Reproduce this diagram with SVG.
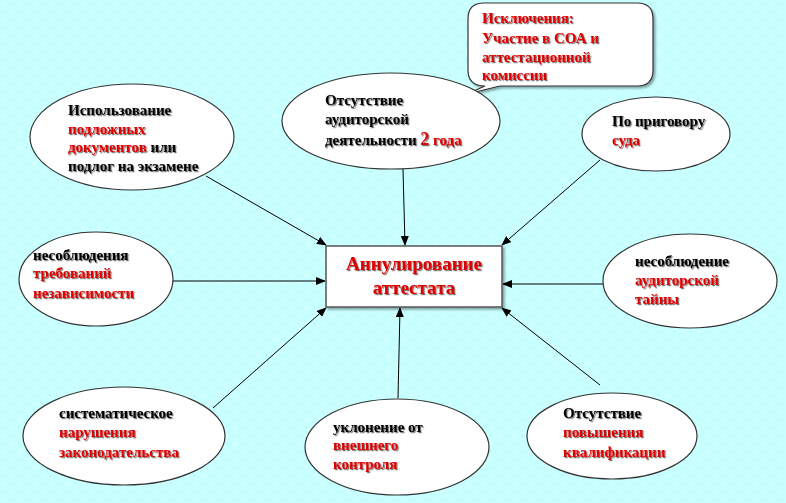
<svg xmlns="http://www.w3.org/2000/svg" width="786" height="503" viewBox="0 0 786 503">
<defs>
<pattern id="dots" width="16" height="16" patternUnits="userSpaceOnUse">
<rect width="16" height="16" fill="#c8ffff"/>
<rect x="2" y="3" width="2" height="1" fill="#ffffff"/>
<rect x="10" y="11" width="2" height="1" fill="#ffffff"/>
<rect x="10" y="3" width="1" height="1" fill="#9ee6e6"/>
<rect x="2" y="11" width="1" height="1" fill="#9ee6e6"/>
</pattern>
<filter id="ts" x="-5%" y="-5%" width="115%" height="130%">
<feDropShadow dx="1.2" dy="1.2" stdDeviation="0.3" flood-color="#000" flood-opacity="0.55"/>
</filter>
<filter id="sh" x="-5%" y="-5%" width="115%" height="120%">
<feDropShadow dx="2" dy="2" stdDeviation="0.8" flood-color="#000" flood-opacity="0.35"/>
</filter>
<marker id="ah" markerWidth="10" markerHeight="8" refX="9" refY="4" orient="auto" markerUnits="userSpaceOnUse">
<path d="M0,0 L10,4 L0,8 Z" fill="#000"/>
</marker>
</defs>
<style>
.node{fill:#fff;stroke:#333;stroke-width:1.2}
.t{font-family:"Liberation Serif","Times New Roman",serif;font-weight:bold;font-size:15px;fill:#000}
.r{fill:#e00000}
.c{font-size:19px;text-anchor:middle;fill:#e00000}
.conn{stroke:#000;stroke-width:1;fill:none;marker-end:url(#ah)}
</style>
<rect width="786" height="503" fill="url(#dots)"/>

<g id="connectors">
<line class="conn" x1="206" y1="176" x2="326" y2="245"/>
<line class="conn" x1="403" y1="169" x2="405" y2="245"/>
<line class="conn" x1="600" y1="160" x2="502" y2="245"/>
<line class="conn" x1="172" y1="281" x2="325" y2="281"/>
<line class="conn" x1="605" y1="284" x2="503" y2="284"/>
<line class="conn" x1="213" y1="408" x2="326" y2="308"/>
<line class="conn" x1="398" y1="398" x2="400" y2="308"/>
<line class="conn" x1="600" y1="385" x2="502" y2="308"/>
</g>

<g id="callout" filter="url(#sh)">
<path class="node" d="M484,3 L637,3 Q653,3 653,19 L653,70 Q653,86 637,86 L500,86 L467,94 L485,86 Q468,86 468,70 L468,19 Q468,3 484,3 Z"/>
</g>
<g id="callout-text" filter="url(#ts)">
<text class="t r" x="482" y="23">Исключения:</text>
<text class="t r" x="482" y="43">Участие в СОА и</text>
<text class="t r" x="482" y="62">аттестационной</text>
<text class="t r" x="482" y="80">комиссии</text>
</g>

<g id="n1">
<ellipse class="node" cx="132" cy="137" rx="102" ry="53"/>
<g filter="url(#ts)">
<text class="t" x="68" y="115">Использование</text>
<text class="t r" x="68" y="134">подложных</text>
<text class="t" x="68" y="152"><tspan class="r">документов</tspan> или</text>
<text class="t" x="68" y="171">подлог на экзамене</text>
</g>
</g>

<g id="n2">
<ellipse class="node" cx="391" cy="121" rx="109" ry="48"/>
<g filter="url(#ts)">
<text class="t" x="325" y="105">Отсутствие</text>
<text class="t" x="325" y="124">аудиторской</text>
<text class="t" x="325" y="145">деятельности <tspan class="r" font-size="18">2</tspan><tspan class="r"> года</tspan></text>
</g>
</g>

<g id="n3">
<ellipse class="node" cx="656" cy="134" rx="74" ry="37"/>
<g filter="url(#ts)">
<text class="t" x="612" y="126">По приговору</text>
<text class="t r" x="612" y="145">суда</text>
</g>
</g>

<g id="n4">
<ellipse class="node" cx="96" cy="279" rx="77" ry="47"/>
<g filter="url(#ts)">
<text class="t" x="33" y="260">несоблюдения</text>
<text class="t r" x="33" y="278">требований</text>
<text class="t r" x="33" y="298">независимости</text>
</g>
</g>

<g id="center">
<rect x="326" y="246" width="176" height="61" fill="#fff" stroke="#555" stroke-width="1.5" filter="url(#sh)"/>
<g filter="url(#ts)">
<text class="t c" x="414" y="270">Аннулирование</text>
<text class="t c" x="414" y="294">аттестата</text>
</g>
</g>

<g id="n5">
<ellipse class="node" cx="690" cy="281" rx="87" ry="47"/>
<g filter="url(#ts)">
<text class="t" x="635" y="266">несоблюдение</text>
<text class="t r" x="635" y="285">аудиторской</text>
<text class="t r" x="635" y="304">тайны</text>
</g>
</g>

<g id="n6">
<ellipse class="node" cx="124" cy="436" rx="101" ry="49"/>
<g filter="url(#ts)">
<text class="t" x="59" y="418">систематическое</text>
<text class="t r" x="59" y="437">нарушения</text>
<text class="t r" x="59" y="457">законодательства</text>
</g>
</g>

<g id="n7">
<ellipse class="node" cx="397" cy="447" rx="92" ry="48"/>
<g filter="url(#ts)">
<text class="t" x="333" y="432">уклонение от</text>
<text class="t r" x="333" y="450">внешнего</text>
<text class="t r" x="333" y="469">контроля</text>
</g>
</g>

<g id="n8">
<ellipse class="node" cx="612" cy="436" rx="85" ry="43"/>
<g filter="url(#ts)">
<text class="t" x="563" y="418">Отсутствие</text>
<text class="t r" x="563" y="437">повышения</text>
<text class="t r" x="563" y="457">квалификации</text>
</g>
</g>
</svg>
